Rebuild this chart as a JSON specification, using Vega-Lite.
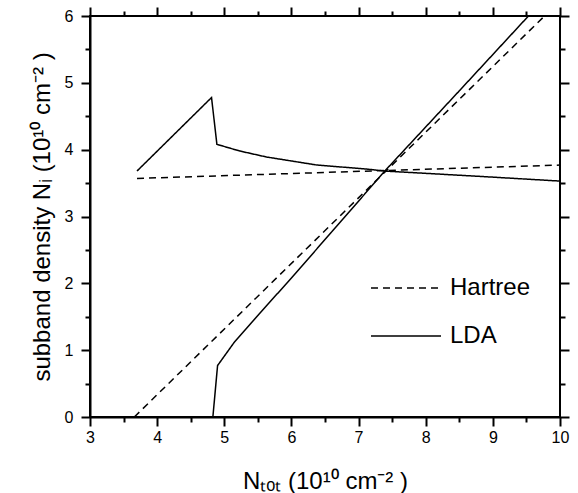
{
  "$schema": "https://vega.github.io/schema/vega-lite/v6.json",
  "width": 470,
  "height": 401,
  "autosize": "none",
  "padding": {"left": 90, "top": 16, "right": 18, "bottom": 76},
  "background": "white",
  "config": {
    "font": "Liberation Sans",
    "view": {"stroke": "black", "strokeWidth": 2},
    "axis": {"grid": false, "domainColor": "black", "domainWidth": 2, "tickColor": "black", "tickWidth": 2, "labelColor": "black", "titleColor": "black", "labelFont": "Liberation Sans", "titleFont": "Liberation Sans", "titleFontWeight": "normal", "labelFlush": false, "labelOverlap": false}
  },
  "data": {
    "values": [
      {"model": "Hartree", "branch": "Hartree-1", "x": 3.70, "y": 3.57},
      {"model": "Hartree", "branch": "Hartree-1", "x": 10.0, "y": 3.77},
      {"model": "Hartree", "branch": "Hartree-2", "x": 3.66, "y": 0.0},
      {"model": "Hartree", "branch": "Hartree-2", "x": 9.77, "y": 6.0},
      {"model": "LDA", "branch": "LDA-1", "x": 3.70, "y": 3.68},
      {"model": "LDA", "branch": "LDA-1", "x": 4.81, "y": 4.78},
      {"model": "LDA", "branch": "LDA-1", "x": 4.89, "y": 4.08},
      {"model": "LDA", "branch": "LDA-1", "x": 5.23, "y": 3.98},
      {"model": "LDA", "branch": "LDA-1", "x": 5.63, "y": 3.89},
      {"model": "LDA", "branch": "LDA-1", "x": 6.38, "y": 3.77},
      {"model": "LDA", "branch": "LDA-1", "x": 7.12, "y": 3.71},
      {"model": "LDA", "branch": "LDA-1", "x": 7.39, "y": 3.68},
      {"model": "LDA", "branch": "LDA-1", "x": 8.81, "y": 3.60},
      {"model": "LDA", "branch": "LDA-1", "x": 10.0, "y": 3.53},
      {"model": "LDA", "branch": "LDA-2", "x": 4.83, "y": 0.0},
      {"model": "LDA", "branch": "LDA-2", "x": 4.90, "y": 0.77},
      {"model": "LDA", "branch": "LDA-2", "x": 5.15, "y": 1.12},
      {"model": "LDA", "branch": "LDA-2", "x": 5.50, "y": 1.52},
      {"model": "LDA", "branch": "LDA-2", "x": 6.00, "y": 2.08},
      {"model": "LDA", "branch": "LDA-2", "x": 6.60, "y": 2.77},
      {"model": "LDA", "branch": "LDA-2", "x": 7.39, "y": 3.68},
      {"model": "LDA", "branch": "LDA-2", "x": 8.50, "y": 4.88},
      {"model": "LDA", "branch": "LDA-2", "x": 9.53, "y": 6.0}
    ]
  },
  "layer": [
    {
      "mark": {"type": "line", "color": "black", "strokeWidth": 1.5, "clip": true},
      "encoding": {
        "x": {
          "field": "x", "type": "quantitative",
          "scale": {"domain": [3, 10], "nice": false, "zero": false},
          "axis": {
            "orient": "bottom",
            "title": "Nₜₒₜ (10¹⁰ cm⁻² )",
            "titleFontSize": 24, "titlePadding": 24,
            "values": [3, 4, 5, 6, 7, 8, 9, 10],
            "labelFontSize": 16, "labelPadding": 3,
            "ticks": true, "tickSize": 9
          }
        },
        "y": {
          "field": "y", "type": "quantitative",
          "scale": {"domain": [0, 6], "nice": false},
          "axis": {
            "orient": "left",
            "title": "subband density Nᵢ (10¹⁰ cm⁻² )",
            "titleFontSize": 24, "titlePadding": 10,
            "values": [0, 1, 2, 3, 4, 5, 6],
            "labelFontSize": 16, "labelPadding": 8,
            "ticks": true, "tickSize": 9
          }
        },
        "detail": {"field": "branch"},
        "strokeDash": {
          "field": "model", "type": "nominal",
          "scale": {"domain": ["Hartree", "LDA"], "range": [[7, 5], [1, 0]]},
          "legend": {
            "title": null, "orient": "none", "legendX": 280, "legendY": 236,
            "symbolType": "stroke", "symbolSize": 4900, "symbolStrokeWidth": 1.5, "symbolStrokeColor": "black",
            "labelFontSize": 24, "labelFont": "Liberation Sans", "labelColor": "black", "labelOffset": 8, "rowPadding": -30
          }
        }
      }
    },
    {
      "mark": {"type": "line", "opacity": 0},
      "encoding": {
        "x": {"field": "x", "type": "quantitative",
          "axis": {"orient": "top", "title": null, "labels": false, "domain": false, "ticks": true, "tickSize": 9, "values": [3, 4, 5, 6, 7, 8, 9, 10]}},
        "y": {"field": "y", "type": "quantitative",
          "axis": {"orient": "right", "title": null, "labels": false, "domain": false, "ticks": true, "tickSize": 9, "values": [0, 1, 2, 3, 4, 5, 6]}},
        "detail": {"field": "branch"}
      }
    },
    {
      "mark": {"type": "line", "opacity": 0},
      "encoding": {
        "x": {"field": "x", "type": "quantitative",
          "axis": {"orient": "bottom", "title": null, "labels": false, "domain": false, "ticks": true, "tickSize": 5, "values": [3.5, 4.5, 5.5, 6.5, 7.5, 8.5, 9.5]}},
        "y": {"field": "y", "type": "quantitative",
          "axis": {"orient": "left", "title": null, "labels": false, "domain": false, "ticks": true, "tickSize": 5, "values": [0.5, 1.5, 2.5, 3.5, 4.5, 5.5]}},
        "detail": {"field": "branch"}
      }
    },
    {
      "mark": {"type": "line", "opacity": 0},
      "encoding": {
        "x": {"field": "x", "type": "quantitative",
          "axis": {"orient": "top", "title": null, "labels": false, "domain": false, "ticks": true, "tickSize": 5, "values": [3.5, 4.5, 5.5, 6.5, 7.5, 8.5, 9.5]}},
        "y": {"field": "y", "type": "quantitative",
          "axis": {"orient": "right", "title": null, "labels": false, "domain": false, "ticks": true, "tickSize": 5, "values": [0.5, 1.5, 2.5, 3.5, 4.5, 5.5]}},
        "detail": {"field": "branch"}
      }
    }
  ],
  "resolve": {"axis": {"x": "independent", "y": "independent"}}
}
